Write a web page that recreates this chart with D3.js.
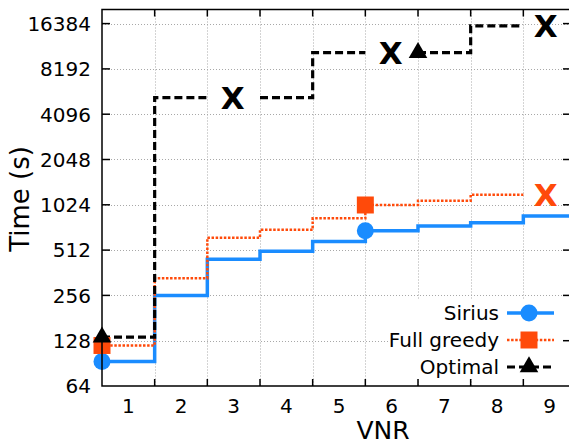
<!DOCTYPE html>
<html>
<head>
<meta charset="utf-8">
<script src="https://cdn.jsdelivr.net/npm/d3@7"></script>
<style>
  html, body { margin: 0; padding: 0; background: #fff; }
  svg { display: block; font-family: "DejaVu Sans", sans-serif; }
</style>
</head>
<body>
<svg id="chart" width="569" height="443"></svg>
<script>
// ---- Data ----
const vnrs = [1, 2, 3, 4, 5, 6, 7, 8, 9];
const yTickValues = [64, 128, 256, 512, 1024, 2048, 4096, 8192, 16384];
const siriusTimes  = [93, 256, 445, 503, 584, 689, 740, 779, 863];
const greedyTimes  = [119, 333, 619, 700, 832, 1021, 1091, 1195, null];
const optimalTimes = [135, 5280, null, 5280, 10500, null, 10500, 15800, null];
const seriesNames = ["Sirius", "Full greedy", "Optimal"];
const markerVNRs = [[1, 6], [1, 6], [1, 7]];

// ---- Layout ----
const svg = d3.select("#chart");
const pLeft = 102, pRight = 576, pTop = 9.5, pBottom = 386;
const x = d3.scaleLinear().domain([0.5, 9.5]).range([pLeft, pRight]);
const y = d3.scaleLog().base(2).domain([64, 16384]).range([pBottom, 23.6]);

const colors = ["#1a8cff", "#ff4a0a", "#000000"];
const symbols = [d3.symbolCircle, d3.symbolSquare, d3.symbolTriangle];
const symbolSizes = [227, 289, 150];
const strokeWidths = [3.5, 2.5, 3.2];
const dashes = [null, "2.5,1.6", "8,4"];
const allSeries = [siriusTimes, greedyTimes, optimalTimes];

svg.append("defs").append("clipPath").attr("id", "plotclip")
  .append("rect").attr("x", pLeft).attr("y", pTop).attr("width", pRight - pLeft).attr("height", pBottom - pTop);

// ---- Grid ----
const grid = svg.append("g").attr("stroke", "#a8a8a8").attr("stroke-width", 1).attr("stroke-dasharray", "1,2");
const boundaries = vnrs.slice(0, -1).map(v => v + 0.5);
grid.selectAll("line.h").data(yTickValues.slice(1)).join("line")
  .attr("x1", pLeft).attr("x2", pRight)
  .attr("y1", d => Math.round(y(d)) + 0.5).attr("y2", d => Math.round(y(d)) + 0.5);
grid.selectAll("line.v").data(boundaries).join("line")
  .attr("y1", pTop).attr("y2", pBottom)
  .attr("x1", d => Math.round(x(d)) + 0.5).attr("x2", d => Math.round(x(d)) + 0.5);

// ---- Step lines ----
function stepPoints(vals) {
  const pts = [];
  vals.forEach((v, i) => {
    const n = vnrs[i];
    if (v == null) { pts.push(null); return; }
    pts.push({ x: n - 0.5, y: v });
    pts.push({ x: n + 0.5, y: v });
  });
  return pts;
}
const line = d3.line().defined(d => d != null).x(d => x(d.x)).y(d => y(d.y));
const plot = svg.append("g").attr("clip-path", "url(#plotclip)");
allSeries.forEach((vals, s) => {
  plot.append("path")
    .attr("d", line(stepPoints(vals)))
    .attr("fill", "none")
    .attr("stroke", colors[s])
    .attr("stroke-width", strokeWidths[s])
    .attr("stroke-dasharray", dashes[s]);
});

// ---- "X" marks for missing (timed-out) values ----
allSeries.forEach((vals, s) => {
  vals.forEach((v, i) => {
    if (v != null) return;
    let prev = null;
    for (let j = i - 1; j >= 0; j--) { if (vals[j] != null) { prev = vals[j]; break; } }
    svg.append("text")
      .attr("x", x(vnrs[i]) - (i === vnrs.length - 1 ? 4 : 1))
      .attr("y", y(prev) + 11.5)
      .attr("text-anchor", "middle")
      .attr("font-size", 31)
      .attr("font-weight", "bold")
      .attr("fill", colors[s])
      .text("X");
  });
});

// ---- Markers ----
allSeries.forEach((vals, s) => {
  markerVNRs[s].forEach(n => {
    const v = vals[n - 1];
    svg.append("path")
      .attr("d", d3.symbol().type(symbols[s]).size(symbolSizes[s])())
      .attr("transform", `translate(${x(n - 0.5)},${y(v)})`)
      .attr("fill", colors[s]);
  });
});

// ---- Legend ----
svg.append("rect").attr("x", 388).attr("y", 299).attr("width", 200).attr("height", 80).attr("fill", "#fff");
const legY = [313, 340, 367];
seriesNames.forEach((name, s) => {
  const g = svg.append("g");
  g.append("text").attr("x", 499).attr("y", legY[s] + 7).attr("text-anchor", "end")
    .attr("font-size", 20).attr("fill", "#000").text(name);
  g.append("line").attr("x1", 507).attr("x2", s === 2 ? 551 : 554)
    .attr("y1", legY[s]).attr("y2", legY[s])
    .attr("stroke", colors[s]).attr("stroke-width", strokeWidths[s])
    .attr("stroke-dasharray", dashes[s]);
  g.append("path")
    .attr("d", d3.symbol().type(symbols[s]).size(symbolSizes[s])())
    .attr("transform", `translate(529,${legY[s]})`)
    .attr("fill", colors[s]);
});

// ---- Axes / border / ticks ----
const ax = svg.append("g").attr("stroke", "#000").attr("stroke-width", 1.5).attr("fill", "none");
ax.append("path").attr("d", `M${pRight},${pTop}H${pLeft}V${pBottom}H${pRight}`);
ax.selectAll("line.yl").data(yTickValues.slice(1)).join("line")
  .attr("x1", pLeft).attr("x2", pLeft + 8)
  .attr("y1", d => y(d)).attr("y2", d => y(d));
ax.selectAll("line.yr").data(yTickValues.slice(1)).join("line")
  .attr("x1", pRight - 13).attr("x2", pRight)
  .attr("y1", d => y(d)).attr("y2", d => y(d));
ax.selectAll("line.xb").data(boundaries).join("line")
  .attr("x1", d => x(d)).attr("x2", d => x(d))
  .attr("y1", pBottom).attr("y2", pBottom - 7);
ax.selectAll("line.xt").data(boundaries).join("line")
  .attr("x1", d => x(d)).attr("x2", d => x(d))
  .attr("y1", pTop).attr("y2", pTop + 7);

// tick labels
svg.append("g").selectAll("text").data(yTickValues).join("text")
  .attr("x", 91).attr("y", d => y(d) + 7.3)
  .attr("text-anchor", "end").attr("font-size", 20).attr("fill", "#000")
  .text(d => d);
svg.append("g").selectAll("text").data(vnrs).join("text")
  .attr("x", d => x(d)).attr("y", 412.5)
  .attr("text-anchor", "middle").attr("font-size", 20).attr("fill", "#000")
  .text(d => d);

// axis titles
svg.append("text").attr("x", 383).attr("y", 438.5).attr("text-anchor", "middle")
  .attr("font-size", 25).attr("fill", "#000").text("VNR");
svg.append("text").attr("transform", "translate(28.5,199) rotate(-90)")
  .attr("text-anchor", "middle").attr("font-size", 26).attr("fill", "#000").text("Time (s)");
</script>
</body>
</html>
